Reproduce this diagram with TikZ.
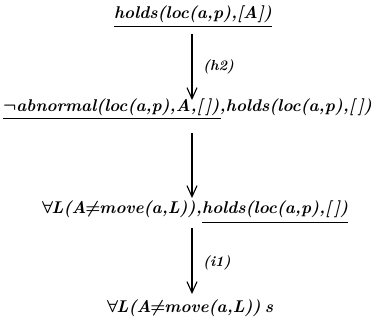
\documentclass[tikz,border=0pt]{standalone}
\usetikzlibrary{arrows.meta}
\begin{document}
\begin{tikzpicture}[x=1pt,y=-1pt,
  txt/.style={inner sep=0pt,font=\fontsize{17}{20}\selectfont\bfseries\itshape\boldmath},
  lbl/.style={inner sep=0pt,font=\fontsize{14.5}{17}\selectfont\bfseries\itshape\boldmath,anchor=west},
  uline/.style={line width=1pt},
  step arrow/.style={line width=1.1pt,-{Straight Barb[length=11pt,width=10pt,line width=1.1pt]}}]
\useasboundingbox (0,0) rectangle (376,322);
\coordinate (col) at (192,0);
% line 1
\node[txt,anchor=base west] (l1) at (114,18) {holds(loc(a,p),[A])};
\draw[uline] ([yshift=-8pt]l1.base west) -- ([yshift=-8pt]l1.base east);
% line 2
\node[txt,anchor=base west] (l2a) at (3,111) {$\neg$abnormal(loc(a,p),A,[\,]),};
\node[txt,anchor=base west] (l2b) at (l2a.base east) {holds(loc(a,p),[\,])};
\draw[uline] ([yshift=-7pt]l2a.base west) -- ([yshift=-7pt,xshift=-5pt]l2a.base east);
% line 3
\node[txt,anchor=base west] (l3a) at (42,213) {$\forall$\kern-1.5pt L(A\kern-1pt$\neq$\kern-1pt move(a,L)),};
\node[txt,anchor=base west] (l3b) at (l3a.base east) {holds(loc(a,p),[\,])};
\draw[uline] ([yshift=-9pt]l3b.base west) -- ([yshift=-9pt]l3b.base east);
% line 4
\node[txt,anchor=base west] (l4) at (107,312) {$\forall$\kern-1.5pt L(A\kern-1pt$\neq$\kern-1pt move(a,L))\kern4pt s};
% arrows
\draw[step arrow] ([yshift=-16pt]l1.base -| col) -- ([yshift=11pt]l2a.base -| col);
\draw[step arrow] ([yshift=-22pt]l2a.base -| col) -- ([yshift=15pt]l3a.base -| col);
\draw[step arrow] ([yshift=-15pt]l3a.base -| col) -- ([yshift=18pt]l4.base -| col);
\node[lbl] (h2) at (203,67) {(h2)};
\node[lbl] (i1) at (203,263) {(i1)};
\end{tikzpicture}
\end{document}
